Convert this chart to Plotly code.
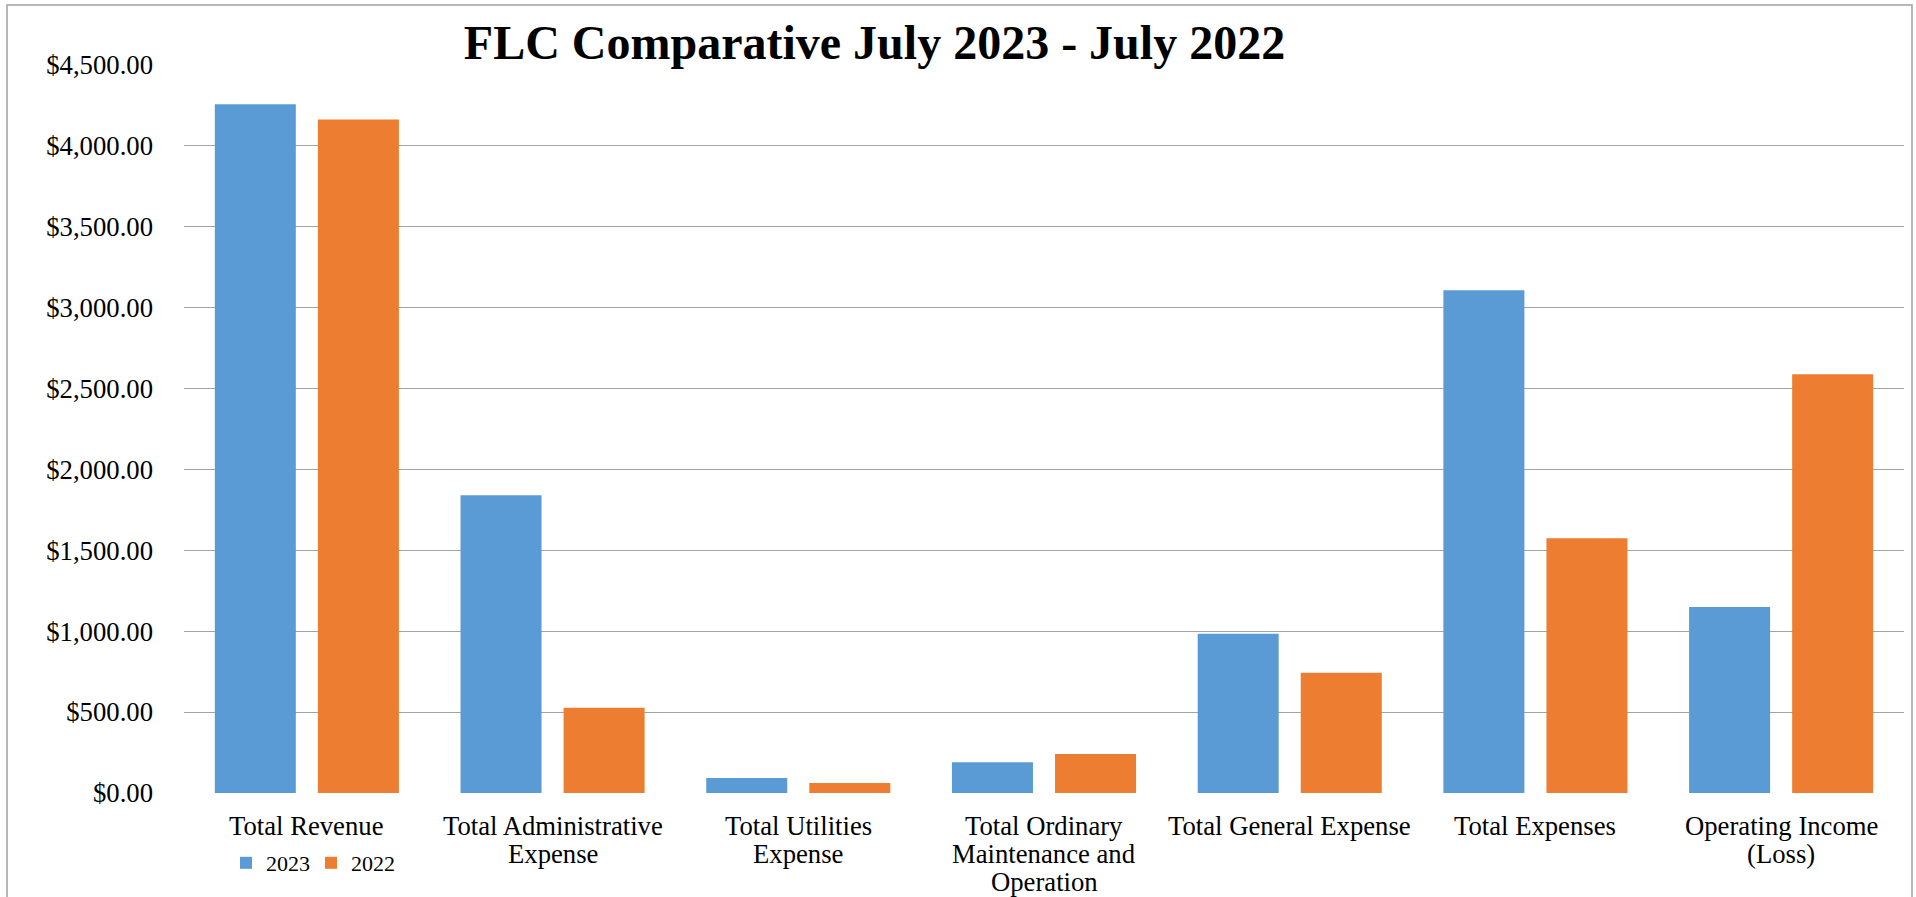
import plotly.graph_objects as go

# FLC income statement comparison, July 2023 vs July 2022
categories = [
    "Total Revenue",
    "Total Administrative Expense",
    "Total Utilities Expense",
    "Total Ordinary Maintenance and Operation",
    "Total General Expense",
    "Total Expenses",
    "Operating Income (Loss)",
]
# wrapped versions of the category names as shown under the axis
tick_labels = [
    "Total Revenue",
    "Total Administrative<br>Expense",
    "Total Utilities<br>Expense",
    "Total Ordinary<br>Maintenance and<br>Operation",
    "Total General Expense",
    "Total Expenses",
    "Operating Income<br>(Loss)",
]
values_2023 = [4257, 1841, 93, 190, 984, 3108, 1149]
values_2022 = [4163, 527, 62, 241, 744, 1574, 2589]
y_ticks = [0, 500, 1000, 1500, 2000, 2500, 3000, 3500, 4000, 4500]

W, H = 1916, 897
M_L, M_R, M_T, M_B = 184, 12, 65, 104
PW, PH = W - M_L - M_R, H - M_T - M_B

SERIF = "Times New Roman, Liberation Serif, serif"
BLUE = "#5B9BD5"
ORANGE = "#ED7D31"
GRID = "#a3a3a3"

fig = go.Figure()
fig.add_trace(go.Bar(name="2023", x=categories, y=values_2023,
                     marker=dict(color=BLUE, line=dict(width=0))))
fig.add_trace(go.Bar(name="2022", x=categories, y=values_2022,
                     marker=dict(color=ORANGE, line=dict(width=0))))

# category labels, one annotation per wrapped line
annotations = []
for cat, lab in zip(categories, tick_labels):
    for i, line in enumerate(lab.split("<br>")):
        annotations.append(dict(
            x=cat, xref="x", y=0, yref="paper",
            text=line, showarrow=False,
            xanchor="center", yanchor="middle", borderpad=0,
            yshift=-(33 + 28 * i),
            font=dict(family=SERIF, size=26.7, color="black"),
        ))

fig.update_layout(
    width=W, height=H,
    margin=dict(l=M_L, r=M_R, t=M_T, b=M_B, pad=0, autoexpand=False),
    paper_bgcolor="white", plot_bgcolor="white",
    barmode="group", bargap=0.161, bargroupgap=0.214,
    title=dict(
        text="<b>FLC Comparative July 2023 - July 2022</b>",
        x=874.5 / W, xref="container", xanchor="center",
        y=1 - 42 / H, yref="container", yanchor="middle",
        font=dict(family=SERIF, size=48, color="black"),
    ),
    xaxis=dict(
        showticklabels=False, showgrid=False, zeroline=False,
        showline=False, ticks="",
    ),
    yaxis=dict(
        range=[0, 4500], tickvals=y_ticks, tickformat="$,.2f",
        showgrid=True, gridcolor=GRID, gridwidth=1.2,
        zeroline=False, showline=False, ticks="",
        ticklabelstandoff=30,
        tickfont=dict(family=SERIF, size=26.7, color="black"),
    ),
    legend=dict(
        orientation="h", x=226 / W, xref="container", xanchor="left",
        y=1 - 863 / H, yref="container", yanchor="middle",
        font=dict(family=SERIF, size=22, color="black"),
        bgcolor="rgba(0,0,0,0)", itemwidth=30, entrywidth=40,
    ),
    annotations=annotations,
    shapes=[dict(
        type="rect", xref="paper", yref="paper",
        x0=(7 - M_L) / PW, x1=(1912 - M_L) / PW,
        y0=(793 - 910) / PH, y1=(793 - 5) / PH,
        line=dict(color="#a0a0a0", width=1.5), fillcolor="rgba(0,0,0,0)",
        layer="below",
    )],
)

fig.write_html("out.html")
